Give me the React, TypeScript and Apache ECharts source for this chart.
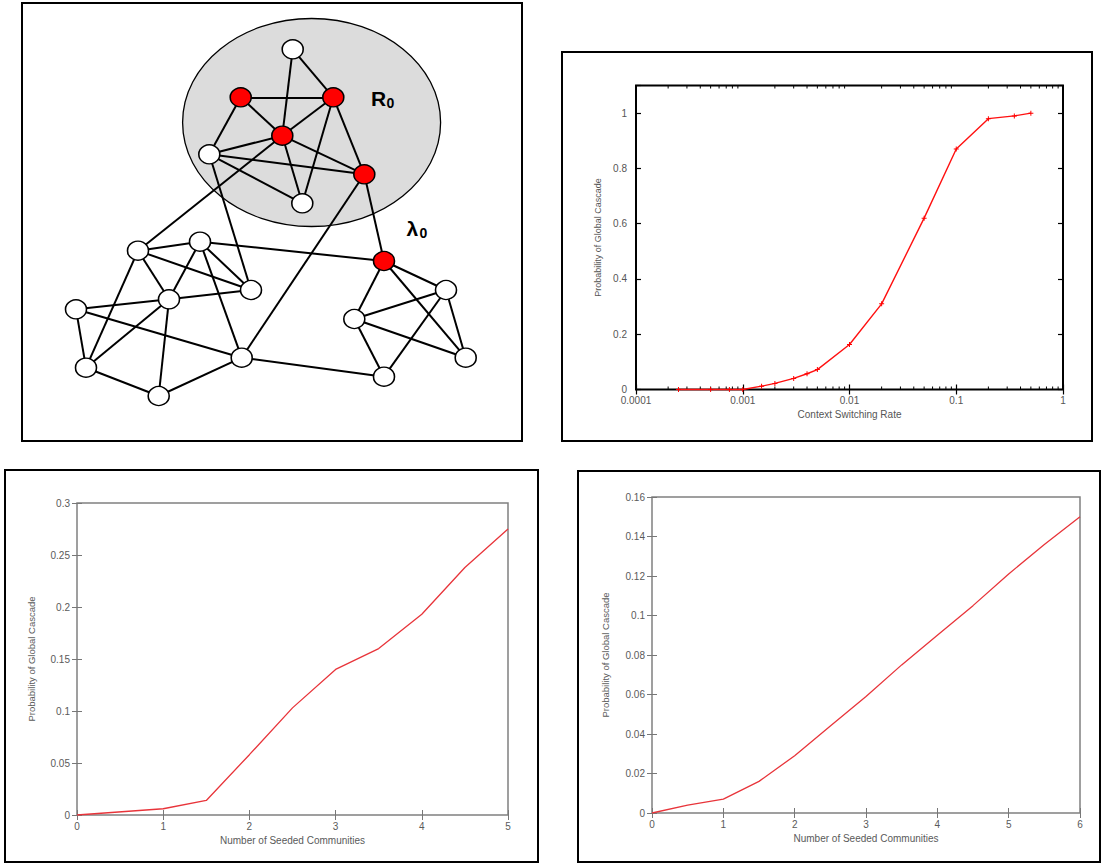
import React, { useEffect, useRef } from 'react';
import * as echarts from 'echarts';

const FONT = '"Liberation Sans", Arial, Helvetica, sans-serif';

// ---------- Top-right panel: cascade probability vs context switching rate ----------
const rateX = [0.00025, 0.0005, 0.00075, 0.001, 0.0015, 0.002, 0.003, 0.004, 0.005, 0.01, 0.02, 0.05, 0.1, 0.2, 0.35, 0.5];
const rateY = [0, 0, 0, 0, 0.012, 0.022, 0.04, 0.057, 0.072, 0.163, 0.31, 0.62, 0.87, 0.98, 0.99, 1.0];
const rateTickLabels = ['0.0001', '0.001', '0.01', '0.1', '1'];
const probTicksTR = ['0', '0.2', '0.4', '0.6', '0.8', '1'];
const decadeStarts = [0.0001, 0.001, 0.01, 0.1];
const minorSteps = [2, 3, 4, 5, 6, 7, 8, 9];

// ---------- Bottom-left panel ----------
const seededX5 = [0, 1, 1.5, 2, 2.5, 3, 3.5, 4, 4.5, 5];
const seededY5 = [0, 0.006, 0.014, 0.058, 0.103, 0.14, 0.16, 0.193, 0.238, 0.275];
const seededTicks5 = ['0', '1', '2', '3', '4', '5'];
const probTicks5 = ['0', '0.05', '0.1', '0.15', '0.2', '0.25', '0.3'];

// ---------- Bottom-right panel ----------
const seededX6 = [0, 0.5, 1, 1.5, 2, 2.5, 3, 3.5, 4, 4.5, 5, 5.5, 6];
const seededY6 = [0, 0.004, 0.007, 0.016, 0.029, 0.044, 0.059, 0.075, 0.09, 0.105, 0.121, 0.136, 0.15];
const seededTicks6 = ['0', '1', '2', '3', '4', '5', '6'];
const probTicks6 = ['0', '0.02', '0.04', '0.06', '0.08', '0.1', '0.12', '0.14', '0.16'];

// ---------- Top-left panel: network diagram ----------
const nodeX = [292.7, 240.7, 333.3, 282.3, 209.3, 364.3, 302.3, 138, 200, 384, 251, 169, 76, 446, 354.3, 241.7, 86, 465.7, 158.7, 384];
const nodeY = [49.3, 97.3, 97.3, 135.7, 154.3, 174.3, 203.3, 250.7, 241.7, 261, 290, 299.3, 309.3, 290, 319, 357.7, 367.7, 357.7, 396, 376.7];
const nodeInfected = [0, 1, 1, 1, 0, 1, 0, 0, 0, 1, 0, 0, 0, 0, 0, 0, 0, 0, 0, 0];
const edgeList: [number, number][] = [
  [1, 3], [1, 4], [2, 3], [2, 4], [2, 5], [3, 4], [3, 7], [3, 6], [4, 5], [4, 7], [4, 6], [5, 6], [5, 7],
  [4, 8], [5, 11], [6, 16], [6, 10], [9, 10], [8, 9], [8, 11], [8, 12], [8, 17], [9, 12], [9, 11], [9, 16],
  [12, 11], [12, 13], [12, 17], [12, 19], [13, 16], [13, 17], [17, 19], [19, 16], [16, 20],
  [10, 14], [10, 15], [10, 18], [14, 15], [14, 20], [14, 18], [15, 18], [15, 20],
];

const W = 1103;
const H = 865;

function App() {
  const ref = useRef<HTMLDivElement>(null);

  useEffect(() => {
    if (!ref.current) return;
    const chart = echarts.init(ref.current, undefined, { renderer: 'svg' });

    const minorTicks: number[] = [];
    decadeStarts.forEach((d) => minorSteps.forEach((m) => minorTicks.push(d * m)));

    const idxFmt = (labels: string[], interval: number) => (v: number) =>
      labels[Math.round(v / interval)] ?? '';

    const linearX = (grid: number, max: number, labels: string[], pos: 'bottom' | 'top', color: string, name?: string, gap?: number) => ({
      gridIndex: grid,
      type: 'value',
      position: pos,
      min: 0,
      max,
      interval: 1,
      axisLine: { show: false },
      splitLine: { show: false },
      axisTick: { show: true, inside: true, length: 5, lineStyle: { color, width: 1 } },
      axisLabel: {
        show: pos === 'bottom',
        color: '#5a5a5a',
        fontSize: 10,
        fontFamily: FONT,
        margin: 6,
        formatter: idxFmt(labels, 1),
      },
      name: pos === 'bottom' ? name : undefined,
      nameLocation: 'middle',
      nameGap: gap,
      nameTextStyle: { color: '#5a5a5a', fontSize: 10, fontFamily: FONT },
    });

    const linearY = (grid: number, max: number, interval: number, labels: string[], pos: 'left' | 'right', color: string, name?: string, gap?: number) => ({
      gridIndex: grid,
      type: 'value',
      position: pos,
      min: 0,
      max,
      interval,
      axisLine: { show: false },
      splitLine: { show: false },
      axisTick: { show: true, inside: true, length: 5, lineStyle: { color, width: 1 } },
      axisLabel: {
        show: pos === 'left',
        color: '#5a5a5a',
        fontSize: 10,
        fontFamily: FONT,
        margin: 7,
        formatter: idxFmt(labels, interval),
      },
      name: pos === 'left' ? name : undefined,
      nameLocation: 'middle',
      nameGap: gap,
      nameTextStyle: { color: '#5a5a5a', fontSize: 9.5, fontFamily: FONT },
    });

    const logX = (pos: 'bottom' | 'top') => ({
      gridIndex: 1,
      type: 'log',
      logBase: 10,
      position: pos,
      min: 0.0001,
      max: 1,
      axisLine: { show: false },
      splitLine: { show: false },
      minorTick: { show: false },
      axisTick: { show: true, inside: true, length: 5, lineStyle: { color: '#000', width: 1.2 } },
      axisLabel: {
        show: pos === 'bottom',
        color: '#555',
        fontSize: 10,
        fontFamily: FONT,
        margin: 6,
        formatter: (v: number) => rateTickLabels[Math.round(Math.log10(v)) + 4] ?? '',
      },
      name: pos === 'bottom' ? 'Context Switching Rate' : undefined,
      nameLocation: 'middle',
      nameGap: 20,
      nameTextStyle: { color: '#555', fontSize: 10, fontFamily: FONT },
    });

    const trY = (pos: 'left' | 'right') => ({
      gridIndex: 1,
      type: 'value',
      position: pos,
      min: 0,
      max: 1.1,
      interval: 0.2,
      axisLine: { show: false },
      splitLine: { show: false },
      axisTick: { show: true, inside: true, length: 5, lineStyle: { color: '#000', width: 1.2 } },
      axisLabel: {
        show: pos === 'left',
        color: '#555',
        fontSize: 10,
        fontFamily: FONT,
        margin: 9,
        formatter: idxFmt(probTicksTR, 0.2),
      },
      name: pos === 'left' ? 'Probability of Global Cascade' : undefined,
      nameLocation: 'middle',
      nameGap: 34,
      nameTextStyle: { color: '#555', fontSize: 9, fontFamily: FONT },
    });

    const nodes = nodeX.map((x, i) => ({
      name: 'n' + i,
      value: [x, nodeY[i]],
      itemStyle: {
        color: nodeInfected[i] ? '#ff0000' : '#ffffff',
        borderColor: '#000',
        borderWidth: 1.5,
      },
    }));
    const links = edgeList.map(([a, b]) => ({ source: a - 1, target: b - 1 }));

    const frame = (x: number, y: number, w: number, h: number) => ({
      type: 'rect',
      shape: { x, y, width: w, height: h },
      style: { fill: 'none', stroke: '#000', lineWidth: 2 },
      z: 10,
      silent: true,
    });

    const option: any = {
      animation: false,
      backgroundColor: '#ffffff',
      textStyle: { fontFamily: FONT },
      grid: [
        { left: 0, top: 0, width: W, height: H, show: false },
        { left: 636, top: 85.5, width: 427, height: 304, show: true, borderColor: '#000', borderWidth: 2, backgroundColor: 'transparent' },
        { left: 77, top: 503, width: 431, height: 312, show: true, borderColor: '#808080', borderWidth: 1.5, backgroundColor: 'transparent' },
        { left: 652, top: 497, width: 428, height: 316, show: true, borderColor: '#808080', borderWidth: 1.5, backgroundColor: 'transparent' },
      ],
      xAxis: [
        { gridIndex: 0, type: 'value', min: 0, max: W, show: false },
        logX('bottom'),
        logX('top'),
        linearX(2, 5, seededTicks5, 'bottom', '#777', 'Number of Seeded Communities', 20),
        linearX(2, 5, seededTicks5, 'top', '#777'),
        linearX(3, 6, seededTicks6, 'bottom', '#777', 'Number of Seeded Communities', 20),
        linearX(3, 6, seededTicks6, 'top', '#777'),
      ],
      yAxis: [
        { gridIndex: 0, type: 'value', min: 0, max: H, inverse: true, show: false },
        trY('left'),
        trY('right'),
        linearY(2, 0.3, 0.05, probTicks5, 'left', '#777', 'Probability of Global Cascade', 41),
        linearY(2, 0.3, 0.05, probTicks5, 'right', '#777'),
        linearY(3, 0.16, 0.02, probTicks6, 'left', '#777', 'Probability of Global Cascade', 42),
        linearY(3, 0.16, 0.02, probTicks6, 'right', '#777'),
      ],
      graphic: [
        {
          type: 'ellipse',
          shape: { cx: 311.6, cy: 122.5, rx: 129, ry: 104 },
          style: { fill: '#dcdcdc', stroke: '#000', lineWidth: 1.3 },
          z: 0,
          silent: true,
        },
        { type: 'text', x: 371, y: 98, style: { text: 'R', font: `bold 21px ${FONT}`, fill: '#000', verticalAlign: 'middle' }, z: 5 },
        { type: 'text', x: 386.5, y: 102.5, style: { text: '0', font: `bold 14px ${FONT}`, fill: '#000', verticalAlign: 'middle' }, z: 5 },
        { type: 'text', x: 406.5, y: 228, style: { text: '\u03bb', font: `bold 21px ${FONT}`, fill: '#000', verticalAlign: 'middle' }, z: 5 },
        { type: 'text', x: 419.5, y: 233, style: { text: '0', font: `bold 14px ${FONT}`, fill: '#000', verticalAlign: 'middle' }, z: 5 },
        frame(22, 3, 500, 438),
        frame(562, 52, 530, 389),
        frame(5, 470, 533, 392),
        frame(578, 471, 522, 391),
      ],
      series: [
        {
          type: 'graph',
          coordinateSystem: 'cartesian2d',
          xAxisIndex: 0,
          yAxisIndex: 0,
          layout: 'none',
          symbol: 'circle',
          symbolSize: [21, 19],
          data: nodes,
          links,
          edgeSymbol: ['none', 'none'],
          lineStyle: { color: '#000', width: 2, opacity: 1, curveness: 0 },
          label: { show: false },
          emphasis: { disabled: true },
          silent: true,
          z: 3,
        },
        {
          type: 'line',
          xAxisIndex: 1,
          yAxisIndex: 1,
          data: rateX.map((x, i) => [x, rateY[i]]),
          symbol: 'path://M-0.6,-3h1.2v6h-1.2z M-3,-0.6h6v1.2h-6z',
          symbolSize: 5,
          showSymbol: true,
          itemStyle: { color: '#ff0000' },
          lineStyle: { color: '#ff1010', width: 1.4 },
          clip: false,
          silent: true,
          z: 4,
        },
        {
          type: 'custom',
          xAxisIndex: 1,
          yAxisIndex: 1,
          data: minorTicks.map((v) => [v, 0]),
          encode: { x: 0, y: 1 },
          silent: true,
          clip: false,
          renderItem: (_p: any, api: any) => {
            const v = api.value(0);
            const b = api.coord([v, 0]);
            const t = api.coord([v, 1.1]);
            return {
              type: 'group',
              children: [
                { type: 'line', shape: { x1: b[0], y1: b[1], x2: b[0], y2: b[1] - 3 }, style: { stroke: '#000', lineWidth: 1 } },
                { type: 'line', shape: { x1: t[0], y1: t[1], x2: t[0], y2: t[1] + 3 }, style: { stroke: '#000', lineWidth: 1 } },
              ],
            };
          },
        },
        {
          type: 'line',
          xAxisIndex: 3,
          yAxisIndex: 3,
          data: seededX5.map((x, i) => [x, seededY5[i]]),
          showSymbol: false,
          symbol: 'none',
          lineStyle: { color: '#e8343a', width: 1.3 },
          silent: true,
        },
        {
          type: 'line',
          xAxisIndex: 5,
          yAxisIndex: 5,
          data: seededX6.map((x, i) => [x, seededY6[i]]),
          showSymbol: false,
          symbol: 'none',
          lineStyle: { color: '#e8343a', width: 1.3 },
          silent: true,
        },
      ],
    };

    chart.setOption(option);
    return () => chart.dispose();
  }, []);

  return (
    <div
      ref={ref}
      style={{ position: 'absolute', left: 0, top: 0, width: W, height: H, background: '#fff' }}
    />
  );
}

export default App;
